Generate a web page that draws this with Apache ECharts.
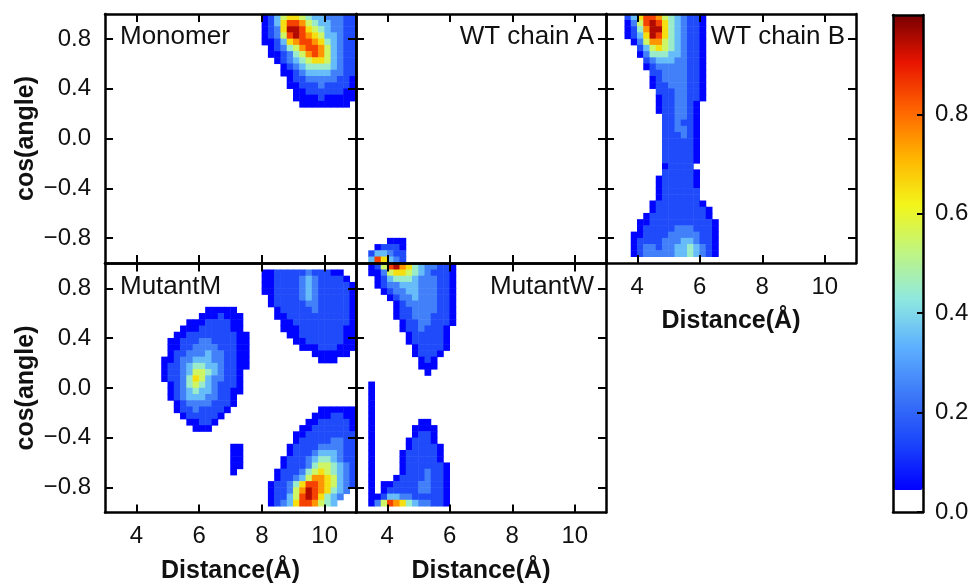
<!DOCTYPE html>
<html>
<head>
<meta charset="utf-8">
<title>Distance / cos(angle) density maps</title>
<script src="https://cdn.jsdelivr.net/npm/echarts@6.0.0/dist/echarts.min.js"></script>
<style>
  html, body { margin: 0; padding: 0; background: #fff; }
  #chart { width: 974px; height: 585px; }
</style>
</head>
<body>
<div id="chart"></div>
<script>
// bin centres of the density grid (0.2 Å x 0.05)
const xBins = [3.1, 3.3, 3.5, 3.7, 3.9, 4.1, 4.3, 4.5, 4.7, 4.9, 5.1, 5.3, 5.5, 5.7, 5.9, 6.1, 6.3, 6.5, 6.7, 6.9,
  7.1, 7.3, 7.5, 7.7, 7.9, 8.1, 8.3, 8.5, 8.7, 8.9, 9.1, 9.3, 9.5, 9.7, 9.9, 10.1, 10.3, 10.5, 10.7, 10.9];
const yBins = [-0.975, -0.925, -0.875, -0.825, -0.775, -0.725, -0.675, -0.625, -0.575, -0.525,
  -0.475, -0.425, -0.375, -0.325, -0.275, -0.225, -0.175, -0.125, -0.075, -0.025,
  0.025, 0.075, 0.125, 0.175, 0.225, 0.275, 0.325, 0.375, 0.425, 0.475,
  0.525, 0.575, 0.625, 0.675, 0.725, 0.775, 0.825, 0.875, 0.925, 0.975];
const xTicks = [4, 6, 8, 10];
const yTicks = [-0.8, -0.4, 0, 0.4, 0.8];
const barTicks = [0, 0.2, 0.4, 0.6, 0.8];
const panelNames = ['Monomer', 'WT chain A', 'WT chain B', 'MutantM', 'MutantW'];
const xName = 'Distance(Å)';
const yName = 'cos(angle)';

// rows counted from the top (cos = 1), [row, first column, densities]
// each digit d stands for a density of (d + 0.5) / 10
const monomerRows = [
  [0, 25, '013566543322211'],
  [1, 25, '013688754332211'],
  [2, 25, '012699865432211'],
  [3, 25, '012589876533211'],
  [4, 25, '001367887643211'],
  [5, 26, '01245788753211'],
  [6, 26, '00124578753211'],
  [7, 27, '0123456653211'],
  [8, 28, '012344443211'],
  [9, 28, '001233332211'],
  [10, 29, '01122222110'],
  [11, 29, '00111211110'],
  [12, 30, '0011111100'],
  [13, 30, '0000100000'],
  [14, 31, '00000000']
];

const wtARows = [
  [36, 5, '000'],
  [37, 3, '01110'],
  [38, 2, '133211'],
  [39, 2, '386321']
];

const wtBRows = [
  [0, 3, '1368875432110'],
  [1, 3, '0258986432110'],
  [2, 3, '0147996432110'],
  [3, 3, '0136986432110'],
  [4, 4, '025775432110'],
  [5, 5, '13565432110'],
  [6, 5, '02444332110'],
  [7, 6, '1233322110'],
  [8, 6, '0122222110'],
  [9, 7, '112222110'],
  [10, 7, '012222110'],
  [11, 7, '011222110'],
  [12, 8, '11122110'],
  [13, 8, '01122110'],
  [14, 8, '0112210'],
  [15, 8, '0112210'],
  [16, 9, '112210'],
  [17, 9, '112110'],
  [18, 9, '112210'],
  [19, 9, '111210'],
  [20, 9, '111110'],
  [21, 9, '111110'],
  [22, 9, '111110'],
  [23, 9, '111110'],
  [24, 9, '01111'],
  [25, 9, '111110'],
  [26, 8, '0111110'],
  [27, 8, '0111110'],
  [28, 8, '0111111'],
  [29, 8, '0111111'],
  [30, 7, '011111110'],
  [31, 7, '0111111110'],
  [32, 6, '01111111110'],
  [33, 5, '0011111111110'],
  [34, 5, '0111112221110'],
  [35, 4, '00111122222110'],
  [36, 4, '01111222332110'],
  [37, 4, '01221223343210'],
  [38, 4, '01222223343210']
];

const mutantMRows = [
  // left blob
  [7, 16, '00000'],
  [8, 15, '0001000'],
  [9, 13, '000111100'],
  [10, 12, '0001111100'],
  [11, 11, '001111111100'],
  [12, 10, '0011122111100'],
  [13, 10, '0011222211100'],
  [14, 10, '0112223221100'],
  [15, 9, '00122333221100'],
  [16, 9, '01123443321100'],
  [17, 9, '0112355432110'],
  [18, 9, '0112465322110'],
  [19, 10, '012454321110'],
  [20, 10, '012343321100'],
  [21, 10, '01233322110'],
  [22, 11, '0122221110'],
  [23, 11, '011211110'],
  [24, 12, '0111110'],
  [25, 13, '00110'],
  [26, 14, '000'],
  // upper right blob
  [1, 25, '0011111211100'],
  [2, 25, '00111123211110'],
  [3, 25, '001111232111110'],
  [4, 25, '001111232111110'],
  [5, 26, '01111232111110'],
  [6, 26, '01111122111110'],
  [7, 27, '0111112111110'],
  [8, 27, '0011111111110'],
  [9, 28, '001111111110'],
  [10, 28, '000111111100'],
  [11, 29, '00111111100'],
  [12, 30, '0011111100'],
  [13, 31, '000111000'],
  [14, 33, '000000'],
  [15, 34, '000'],
  // lower right blob
  [23, 34, '000000'],
  [24, 33, '0001100'],
  [25, 32, '00111110'],
  [26, 31, '001111110'],
  [27, 30, '0011111111'],
  [28, 30, '0111112211'],
  [29, 29, '01111222211'],
  [30, 29, '01112333211'],
  [31, 28, '011123443211'],
  [32, 28, '011124554321'],
  [33, 27, '0111245654321'],
  [34, 27, '0112357765321'],
  [35, 26, '01124688765321'],
  [36, 26, '0112579876432'],
  [37, 26, '011358986432'],
  [38, 26, '01236887543'],
  // small spot
  [29, 20, '00'],
  [30, 20, '00'],
  [31, 20, '00'],
  [32, 20, '00'],
  [33, 20, '0']
];

const mutantWRows = [
  // upper wedge
  [0, 2, '01589764322110'],
  [1, 2, '00256654321110'],
  [2, 3, '0134443222110'],
  [3, 3, '0122333222110'],
  [4, 4, '012233222110'],
  [5, 5, '01223222110'],
  [6, 6, '0122222110'],
  [7, 6, '0112222110'],
  [8, 6, '0112221110'],
  [9, 7, '011221110'],
  [10, 7, '01121110'],
  [11, 8, '0111110'],
  [12, 8, '0111110'],
  [13, 9, '011110'],
  [14, 9, '01110'],
  [15, 10, '010'],
  [16, 10, '000'],
  [17, 11, '0'],
  // thin streak at 3.5 Å
  [19, 2, '0'], [20, 2, '0'], [21, 2, '0'], [22, 2, '0'], [23, 2, '0'],
  [24, 2, '0'], [25, 2, '0'], [26, 2, '0'], [27, 2, '0'], [28, 2, '0'],
  [29, 2, '0'], [30, 2, '0'], [31, 2, '0'], [32, 2, '0'], [33, 2, '0'],
  [34, 2, '0'], [35, 2, '0'], [36, 2, '0'], [37, 2, '0'],
  // lower dome
  [25, 10, '00'],
  [26, 9, '0000'],
  [27, 9, '0110'],
  [28, 8, '01110'],
  [29, 8, '011110'],
  [30, 7, '0111110'],
  [31, 7, '0111110'],
  [32, 7, '01111110'],
  [33, 7, '01112110'],
  [34, 6, '011112110'],
  [35, 4, '00111122110'],
  [36, 4, '01111122110'],
  [37, 3, '013322111110'],
  [38, 2, '0258764322110']
];

const panelRows = [monomerRows, wtARows, wtBRows, mutantMRows, mutantWRows];

const jet = ['#0000ff', '#1c46fa', '#3c78f8', '#5cb0ff', '#8ee8e0', '#bff582',
  '#f2f51a', '#ffb400', '#ff6400', '#e81400', '#780000'];

const FONT = '"Liberation Sans", Arial, Helvetica, sans-serif';

function cells(rows) {
  const out = [];
  rows.forEach(([r, c0, s]) => {
    for (let i = 0; i < s.length; i++) {
      out.push([c0 + i, 39 - r, (Number(s[i]) + 0.5) / 10]);
    }
  });
  return out;
}

const layout = [
  { left: 105, top: 14, width: 251, height: 249, xlab: false, ylab: true },
  { left: 356, top: 14, width: 250, height: 249, xlab: false, ylab: false },
  { left: 606, top: 14, width: 250, height: 249, xlab: true, ylab: false },
  { left: 105, top: 263.5, width: 251, height: 249, xlab: true, ylab: true },
  { left: 356, top: 263.5, width: 250, height: 249, xlab: true, ylab: false }
];
const labelPos = [
  { x: 120, y: 37, align: 'left' },
  { x: 594, y: 37, align: 'right' },
  { x: 845, y: 37, align: 'right' },
  { x: 120, y: 287, align: 'left' },
  { x: 594, y: 287, align: 'right' }
];

const frameLine = { show: true, onZero: false, lineStyle: { color: '#000', width: 2.5 } };
const tick = (vals, len) => ({ show: true, inside: true, length: len, customValues: vals, lineStyle: { color: '#000', width: 2 } });
const labelStyle = { fontSize: 24, color: '#111', fontFamily: FONT };
const nameStyle = { fontSize: 25, fontWeight: 'bold', color: '#111', fontFamily: FONT };
const fmtY = v => (v < 0 ? '\u2212' : '') + Math.abs(v).toFixed(1);

const grids = [], xAxes = [], yAxes = [], series = [], graphics = [];

layout.forEach((g, i) => {
  grids.push({ left: g.left, top: g.top, width: g.width, height: g.height, show: false });

  xAxes.push({ type: 'category', gridIndex: i, data: xBins, show: false, position: 'bottom', axisLine: { onZero: false } });
  xAxes.push({
    type: 'value', gridIndex: i, position: 'bottom', min: 3, max: 11, z: 10,
    axisLine: frameLine, splitLine: { show: false }, axisTick: tick(xTicks, 8),
    axisLabel: Object.assign({ show: g.xlab, customValues: xTicks, margin: 12 }, labelStyle),
    name: g.xlab ? xName : '', nameLocation: 'middle', nameGap: 46, nameTextStyle: nameStyle
  });
  xAxes.push({
    type: 'value', gridIndex: i, position: 'top', min: 3, max: 11, z: 10,
    axisLine: frameLine, splitLine: { show: false }, axisTick: tick(xTicks, 8), axisLabel: { show: false }
  });

  yAxes.push({ type: 'category', gridIndex: i, data: yBins, show: false, position: 'left', axisLine: { onZero: false } });
  yAxes.push({
    type: 'value', gridIndex: i, position: 'left', min: -1, max: 1, z: 10,
    axisLine: frameLine, splitLine: { show: false }, axisTick: tick(yTicks, 8),
    axisLabel: Object.assign({ show: g.ylab, customValues: yTicks, margin: 14, formatter: fmtY }, labelStyle),
    name: g.ylab ? yName : '', nameLocation: 'middle', nameGap: 66, nameTextStyle: nameStyle
  });
  yAxes.push({
    type: 'value', gridIndex: i, position: 'right', min: -1, max: 1, z: 10,
    axisLine: frameLine, splitLine: { show: false }, axisTick: tick(yTicks, 8), axisLabel: { show: false }
  });

  series.push({
    type: 'heatmap', xAxisIndex: 3 * i, yAxisIndex: 3 * i,
    data: cells(panelRows[i]), silent: true, progressive: 0,
    emphasis: { disabled: true }, itemStyle: { borderWidth: 0 }
  });

  graphics.push({
    type: 'text', z: 20, silent: true,
    style: {
      x: labelPos[i].x, y: labelPos[i].y, text: panelNames[i], fill: '#111',
      font: '26px ' + FONT, textAlign: labelPos[i].align, textVerticalAlign: 'middle'
    }
  });
});

// colour bar frame and ticks (grid 5)
grids.push({ left: 893, top: 15, width: 30, height: 497, show: false });
xAxes.push({ type: 'value', gridIndex: 5, position: 'bottom', min: 0, max: 1, z: 10, axisLine: frameLine,
  axisTick: { show: false }, axisLabel: { show: false }, splitLine: { show: false } });
xAxes.push({ type: 'value', gridIndex: 5, position: 'top', min: 0, max: 1, z: 10, axisLine: frameLine,
  axisTick: { show: false }, axisLabel: { show: false }, splitLine: { show: false } });
yAxes.push({ type: 'value', gridIndex: 5, position: 'left', min: 0, max: 1, z: 10, axisLine: frameLine,
  axisTick: { show: false }, axisLabel: { show: false }, splitLine: { show: false } });
yAxes.push({
  type: 'value', gridIndex: 5, position: 'right', min: 0, max: 1, z: 10, axisLine: frameLine,
  splitLine: { show: false }, axisTick: tick(barTicks, 6),
  axisLabel: Object.assign({ customValues: barTicks, margin: 12, formatter: v => v.toFixed(1) }, labelStyle)
});

const chart = echarts.init(document.getElementById('chart'));
chart.setOption({
  animation: false,
  backgroundColor: '#fff',
  grid: grids,
  xAxis: xAxes,
  yAxis: yAxes,
  visualMap: {
    type: 'continuous', min: 0.045, max: 1, seriesIndex: [0, 1, 2, 3, 4],
    inRange: { color: jet }, orient: 'vertical',
    left: 893, top: 15, itemWidth: 30, itemHeight: 475, padding: 0,
    calculable: false, hoverLink: false, z: 4
  },
  graphic: graphics,
  series: series
});
</script>
</body>
</html>
